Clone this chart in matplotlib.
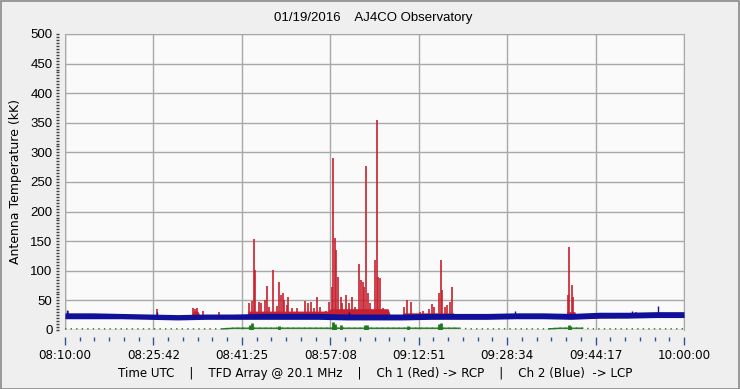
import matplotlib
matplotlib.use("Agg")
import matplotlib.pyplot as plt
from matplotlib.patches import Rectangle
import numpy as np

# ---------------- data (minutes after 08:10:00 UTC) ----------------
x_tick_labels = ["08:10:00", "08:25:42", "08:41:25", "08:57:08",
                 "09:12:51", "09:28:34", "09:44:17", "10:00:00"]
t_total = 110.0

# Ch 2 (blue) noise band
blue_t = [0, 5, 10, 15, 20, 25, 30, 35, 40, 45, 50, 55, 60, 65, 70, 75,
          80, 85, 90, 95, 100, 105, 110]
blue_lo = [19, 19, 19, 18, 17, 18, 18, 18, 18, 18, 17, 17, 17, 18, 18, 18,
           19, 19, 18, 20, 20, 21, 21]
blue_hi = [29, 29, 28, 27, 26, 27, 27, 28, 28, 28, 27, 27, 27, 28, 28, 28,
           29, 29, 28, 30, 30, 31, 31]
blue_spike_t = [0.4, 16.3, 50.5, 80.0, 100.8, 105.4]
blue_spike_v = [33, 31, 30, 32, 32, 41]

# Ch 1 (red) background envelope (active periods)
red_env_t = [0, 22.4, 22.8, 23.6, 24.0, 32.3, 32.6, 46.8, 47.2, 57.4, 57.8,
             59.8, 60.2, 69.0, 69.4, 89.0, 89.2, 90.6, 90.8, 110]
red_env_v = [24, 24, 32, 32, 24, 24, 32, 32, 36, 36, 25, 25, 29, 29, 24,
             24, 31, 31, 25, 25]

# Ch 1 (red) spikes
red_spike_t = [0.53, 16.35, 22.75, 23.1, 23.46, 24.52, 27.37,
               32.70, 33.23, 33.59, 33.76, 34.47, 34.83, 35.54, 35.90, 36.25,
               36.96, 37.67, 38.03, 38.38, 38.74, 38.92, 39.45, 39.63, 40.34,
               41.23, 42.65, 43.18, 43.71, 44.25, 44.78, 45.31, 46.38, 46.91,
               47.45, 47.63, 47.98, 48.16, 48.51, 49.05, 49.22, 49.93, 50.47,
               51.00, 51.53, 52.24, 52.60, 52.96, 53.13, 53.49, 53.84, 54.20,
               55.09, 55.44, 55.62, 55.98, 56.51, 57.22,
               60.24, 60.78, 61.49, 63.09, 63.62, 64.69, 65.22, 65.58, 66.46,
               66.82, 66.99, 67.53, 67.88, 68.42, 68.77,
               89.39, 89.56, 90.10, 90.28, 101.5]
red_spike_v = [32, 35, 37, 36, 37, 32, 30,
               45, 49, 154, 101, 47, 46, 50, 74, 39,
               101, 40, 81, 59, 62, 51, 42, 56, 37,
               37, 49, 45, 47, 37, 56, 39, 32, 47,
               73, 290, 155, 135, 90, 56, 45, 59, 45,
               56, 39, 111, 84, 81, 73, 277, 62, 45,
               118, 355, 90, 88, 37, 30,
               39, 51, 47, 30, 32, 35, 44, 39, 62,
               118, 68, 39, 42, 47, 73,
               59, 140, 76, 56, 30]

# Green channel: low baseline and short bumps
green_t = [0, 10, 20, 28, 30, 40, 50, 60, 70, 72, 80, 86, 88, 92, 94, 100, 110]
green_v = [2, 2, 2, 2, 3, 3, 3, 3, 3, 2, 2, 2, 3, 3, 2, 2, 2]
green_active_t0 = [28, 86]
green_active_t1 = [70, 93]
green_bump_t = [32.9, 33.3, 38.0, 47.7, 48.0, 49.0, 53.4, 53.7, 61.0, 66.4,
                66.8, 89.5, 89.8]
green_bump_v = [9, 11, 6, 13, 10, 8, 8, 9, 6, 10, 11, 9, 7]

# ---------------- figure ----------------
RED = "#C8202E"
BLUE = "#10109A"
GREEN = "#1E7A1E"
GRIDC = "#A8A8A8"

fig = plt.figure(figsize=(7.40, 3.89), dpi=100, facecolor="#EFEFEF")
ax = fig.add_axes([65 / 740, 59 / 389, 619 / 740, 296 / 389])
ax.set_facecolor("#FAFAFA")

ax.set_xlim(0, t_total)
ax.set_ylim(0, 500)

# red background + spikes (base just above the lower edge of the blue band)
red_base = np.interp(red_env_t, blue_t, blue_lo) + 1.5
ax.fill_between(red_env_t, red_base, red_env_v, color=RED, lw=0, zorder=3)
ax.vlines(red_spike_t, 22, red_spike_v, color=RED, lw=1.2, zorder=3)

# blue band + spikes
ax.fill_between(blue_t, blue_lo, blue_hi, color=BLUE, lw=0, zorder=4)
ax.vlines(blue_spike_t, 22, blue_spike_v, color=BLUE, lw=1.0, zorder=4)

# green
gt = np.array(green_t, dtype=float)
gv = np.array(green_v, dtype=float)
ax.plot(gt, gv, color=GREEN, lw=1.0, ls=(0, (1, 3)), zorder=3)
for a, b in zip(green_active_t0, green_active_t1):
    m = (gt >= a) & (gt <= b)
    ax.plot(gt[m], gv[m], color=GREEN, lw=1.0, zorder=3)
ax.vlines(green_bump_t, 0, green_bump_v, color=GREEN, lw=2.0, zorder=3)

# grid / ticks
major_x = [t_total * k / 7 for k in range(8)]
minor_x = [t_total * k / 42 for k in range(43)]
ax.set_xticks(major_x)
ax.set_xticks(minor_x, minor=True)
ax.set_xticklabels(x_tick_labels)
ax.set_yticks(range(0, 501, 50))
ax.set_yticks(range(0, 501, 5), minor=True)
ax.grid(True, which="major", color=GRIDC, lw=1.0, zorder=1)
ax.set_axisbelow(True)
for s in ["top", "right"]:
    ax.spines[s].set_color(GRIDC)
ax.spines["left"].set_position(("outward", 4))
ax.spines["bottom"].set_position(("outward", 5))
ax.spines["left"].set_visible(False)
ax.spines["bottom"].set_visible(False)
ax.axvline(0, color=GRIDC, lw=1.0, zorder=2)
ax.axhline(0, color=GRIDC, lw=1.0, zorder=2)

ax.tick_params(axis="x", which="major", direction="out", length=6, width=1,
               color="#2B5797", pad=3, labelsize=8.6)
ax.tick_params(axis="x", which="minor", direction="out", length=3, width=1,
               color="#2B5797")
ax.tick_params(axis="y", which="both", direction="out", length=2, width=1,
               color="#404040", pad=3)
for lab in ax.get_yticklabels():
    lab.set_fontfamily(["Liberation Sans", "DejaVu Sans"])
    lab.set_fontsize(9.5)
for lab in ax.get_xticklabels():
    lab.set_fontfamily("DejaVu Sans")

ax.set_ylabel("Antenna Temperature (kK)", fontsize=9, family="DejaVu Sans",
              labelpad=6)

fig.text(373 / 740, 1 - 18 / 389, "01/19/2016    AJ4CO Observatory",
         ha="center", va="center", fontsize=9.5,
         family=["Liberation Sans Narrow", "Liberation Sans", "DejaVu Sans"])
fig.text(375 / 740, 1 - 373 / 389,
         "Time UTC    |    TFD Array @ 20.1 MHz    |    Ch 1 (Red) -> RCP    |    Ch 2 (Blue)  -> LCP",
         ha="center", va="center", fontsize=8.6, family="DejaVu Sans")

fig.add_artist(Rectangle((0.001, 0.001), 0.997, 0.997, transform=fig.transFigure,
                         fill=False, edgecolor="#8A8A8A", lw=1.2))

fig.savefig("out.png", dpi=100, facecolor=fig.get_facecolor())
